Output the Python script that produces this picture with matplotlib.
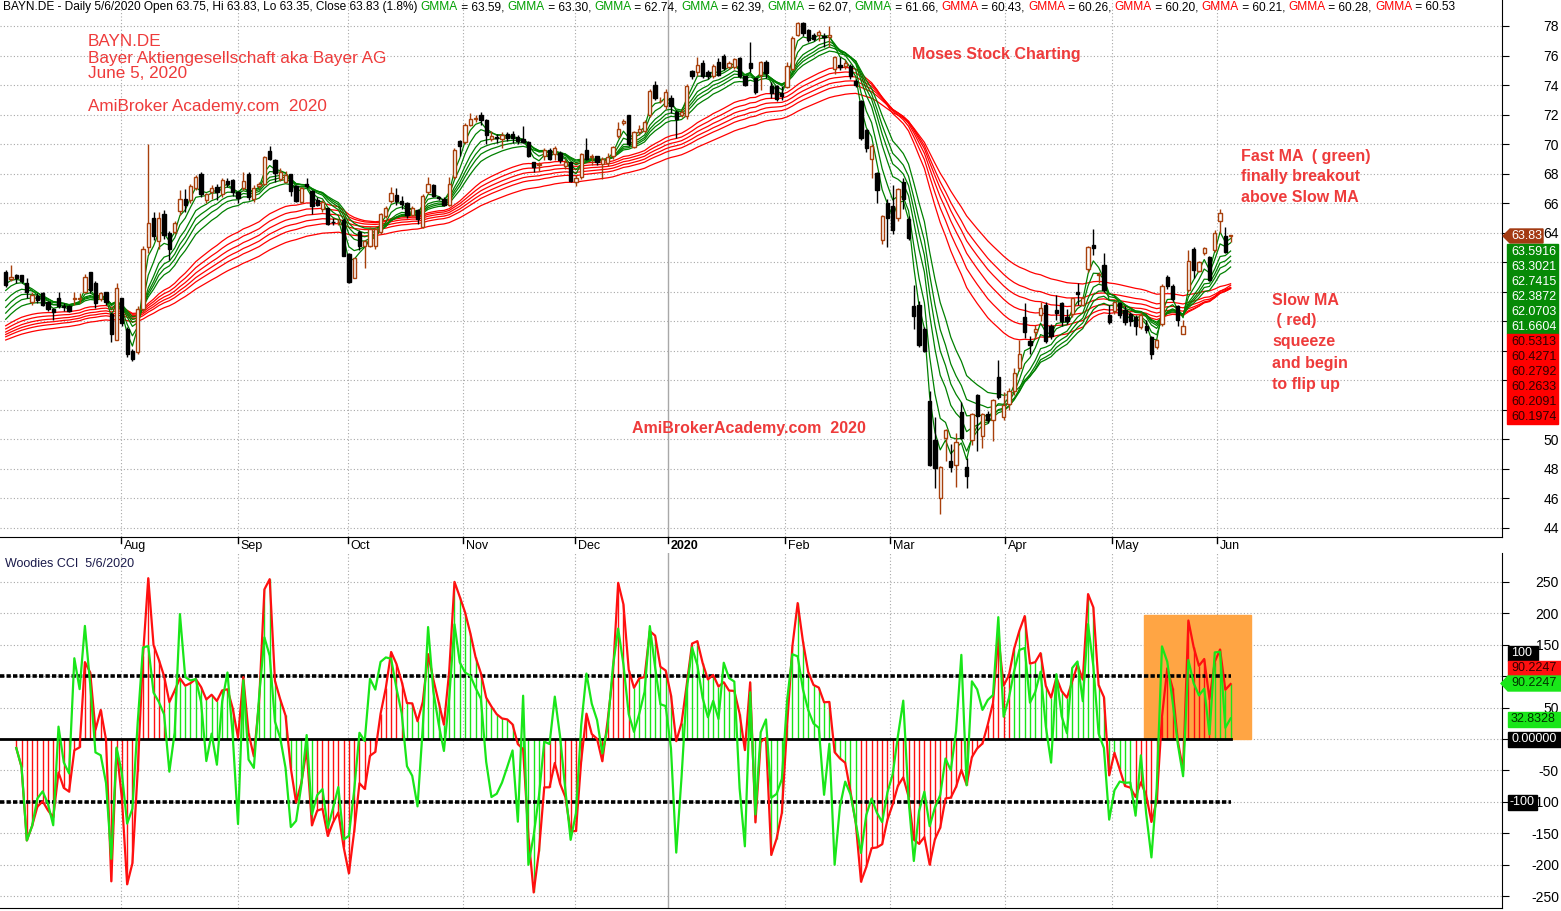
import numpy as np
import pandas as pd
import matplotlib
matplotlib.use("Agg")
import matplotlib.pyplot as plt
from matplotlib.patches import Rectangle, Polygon

# daily bars (Jul 2019 - 5 Jun 2020)
opens = [61.35, 60.85, 61.1, 61.1, 60.6, 59.3, 59.7, 59.9, 59.3, 58.8, 59.6, 59.05, 59.0, 59.5, 59.5, 59.95,
         61.3, 60.6, 59.5, 59.95, 58.5, 56.75, 59.55, 57.47, 56.0, 55.94, 58.8, 63.0, 64.97, 63.4, 65.26, 64.0,
         64.02, 65.44, 66.3, 66.23, 67.0, 68.0, 66.23, 66.73, 67.07, 66.6, 67.5, 67.58, 66.73, 67.0, 68.0, 66.3,
         67.13, 67.3, 69.55, 68.94, 67.6, 67.45, 67.97, 67.13, 66.1, 67.3, 66.84, 66.23, 65.6, 65.64, 64.75, 64.7,
         64.88, 62.55, 60.93, 64.06, 63.07, 63.07, 63.1, 64.06, 65.15, 66.16, 66.55, 66.16, 65.98, 65.2, 65.53, 64.36,
         66.73, 67.2, 66.4, 66.3, 65.9, 67.74, 70.2, 70.16, 71.29, 71.7, 72.0, 71.65, 70.34, 70.5, 70.34, 70.66,
         70.7, 70.5, 70.33, 70.15, 68.76, 68.6, 69.2, 69.6, 69.3, 69.4, 68.5, 68.76, 67.42, 67.75, 69.6, 69.1,
         69.16, 68.64, 68.7, 69.2, 70.55, 71.4, 71.98, 69.77, 70.84, 70.9, 71.94, 74.0, 72.9, 72.56, 73.12, 72.16,
         71.94, 71.9, 74.98, 74.9, 75.5, 74.85, 74.6, 75.58, 75.96, 75.25, 75.2, 75.8, 74.58, 75.47, 74.47, 74.67,
         75.57, 73.9, 73.9, 73.44, 73.89, 75.06, 77.37, 78.2, 77.75, 77.37, 77.37, 77.3, 77.26, 75.06, 75.35, 75.28,
         75.28, 74.27, 72.94, 70.97, 69.0, 68.05, 63.5, 66.02, 65.8, 65.0, 67.4, 64.9, 59.06, 59.1, 57.44, 52.6,
         49.96, 46.0, 50.1, 48.54, 48.27, 51.82, 48.1, 49.96, 53.0, 50.25, 51.7, 51.3, 54.2, 51.53, 52.4, 53.3,
         54.8, 58.28, 56.63, 57.26, 58.4, 59.1, 57.67, 58.78, 59.25, 58.28, 58.5, 60.0, 59.1, 61.55, 63.18, 61.1,
         61.78, 58.44, 58.66, 59.25, 58.73, 58.5, 58.28, 57.6, 57.67, 56.93, 56.25, 57.83, 60.99, 60.38, 59.0, 57.15,
         60.1, 62.9, 61.37, 62.63, 62.34, 62.8, 64.76, 63.77, 63.75]
highs = [61.45, 61.8, 61.2, 61.15, 60.9, 60.0, 59.9, 60.0, 59.4, 58.9, 60.0, 59.2, 59.1, 60.0, 59.9, 61.2,
         61.35, 60.7, 60.0, 60.0, 58.6, 60.6, 59.6, 57.6, 56.1, 59.0, 63.1, 70.0, 65.4, 65.4, 65.5, 64.1,
         64.8, 66.9, 66.97, 67.3, 67.9, 68.1, 66.7, 67.2, 67.3, 67.7, 67.7, 67.6, 66.8, 68.1, 68.1, 67.2,
         67.4, 69.2, 69.9, 69.0, 68.4, 68.2, 68.0, 67.2, 67.1, 67.7, 66.9, 66.4, 66.2, 65.7, 65.0, 64.9,
         65.0, 62.6, 62.3, 64.2, 63.5, 64.4, 64.4, 65.3, 65.8, 67.1, 67.0, 66.5, 66.1, 65.8, 65.6, 66.6,
         67.8, 67.3, 66.5, 66.4, 67.8, 69.7, 70.3, 71.4, 72.1, 72.0, 72.2, 71.7, 70.9, 70.7, 70.8, 70.8,
         70.9, 70.6, 71.2, 70.2, 68.8, 68.8, 69.7, 69.7, 69.9, 69.5, 69.0, 68.8, 67.9, 69.4, 70.4, 69.3,
         69.2, 69.1, 69.4, 69.9, 71.5, 71.7, 72.0, 70.9, 71.3, 71.6, 73.7, 74.3, 73.2, 73.7, 73.3, 72.3,
         72.4, 74.1, 75.0, 75.9, 75.7, 75.0, 75.4, 75.8, 76.1, 75.6, 75.8, 75.9, 74.6, 76.9, 74.5, 75.6,
         75.7, 74.2, 74.0, 73.9, 75.57, 77.3, 78.3, 78.27, 77.8, 77.5, 77.7, 77.5, 78.0, 76.0, 75.9, 75.7,
         75.4, 74.4, 73.0, 71.0, 70.0, 68.1, 65.2, 66.3, 67.26, 67.0, 67.7, 65.1, 60.45, 59.4, 57.6, 53.3,
         51.5, 48.2, 50.7, 49.7, 50.4, 52.5, 48.7, 51.75, 53.1, 51.8, 51.9, 52.7, 55.4, 53.2, 53.5, 54.8,
         56.7, 59.25, 57.0, 57.76, 59.3, 59.3, 57.8, 59.8, 59.3, 58.8, 59.6, 60.6, 59.7, 63.1, 64.26, 61.3,
         62.63, 59.07, 59.4, 59.3, 59.0, 58.6, 58.4, 58.6, 58.05, 57.0, 56.8, 60.5, 61.1, 60.5, 59.1, 58.05,
         62.8, 63.0, 62.1, 63.0, 62.4, 64.15, 65.6, 64.37, 63.83]
lows = [60.3, 60.7, 60.6, 60.6, 59.6, 59.1, 59.2, 59.0, 58.7, 58.1, 58.9, 58.7, 58.6, 59.1, 59.2, 59.9,
        59.9, 58.9, 59.4, 59.1, 56.57, 56.7, 57.7, 55.6, 55.3, 55.8, 58.6, 62.6, 63.5, 62.9, 63.6, 62.17,
        63.9, 65.2, 65.4, 66.0, 66.9, 66.4, 66.0, 66.3, 66.2, 66.4, 67.1, 66.5, 66.0, 66.9, 66.2, 66.1,
        67.0, 67.2, 68.9, 67.4, 67.5, 67.4, 66.45, 66.1, 66.0, 67.0, 65.26, 65.8, 65.4, 64.5, 64.5, 64.5,
        62.4, 60.6, 60.9, 62.8, 61.6, 63.0, 62.9, 63.9, 65.0, 66.0, 65.9, 65.6, 65.0, 65.1, 64.58, 64.3,
        66.6, 66.4, 66.2, 65.8, 65.8, 67.6, 69.2, 70.0, 71.2, 71.5, 71.3, 70.0, 70.2, 70.1, 69.7, 70.2,
        70.1, 70.0, 70.1, 69.1, 68.1, 68.2, 68.9, 68.9, 68.9, 68.7, 68.3, 67.4, 67.15, 67.6, 68.9, 68.6,
        68.6, 67.6, 68.5, 69.0, 70.4, 71.3, 69.9, 69.7, 70.6, 70.8, 71.8, 73.0, 72.8, 72.4, 72.1, 70.4,
        71.8, 71.7, 74.4, 74.6, 74.5, 74.4, 74.5, 74.6, 75.0, 75.1, 75.1, 74.5, 73.9, 74.9, 73.4, 73.66,
        74.5, 73.1, 72.9, 73.0, 73.8, 75.0, 77.3, 77.3, 76.9, 77.0, 77.0, 76.58, 76.6, 74.74, 75.0, 75.1,
        74.4, 73.84, 70.3, 69.44, 67.7, 66.0, 63.2, 63.06, 63.9, 64.8, 65.6, 63.5, 57.5, 56.24, 55.9, 48.2,
        46.7, 44.95, 48.5, 47.8, 46.8, 50.0, 46.7, 49.6, 49.2, 49.4, 51.1, 49.9, 52.7, 51.3, 52.0, 53.0,
        54.6, 56.86, 55.8, 56.8, 58.0, 56.5, 56.8, 58.05, 57.7, 57.8, 58.3, 59.07, 59.0, 61.3, 62.5, 60.6,
        60.0, 57.8, 58.5, 58.2, 57.76, 57.7, 57.04, 57.5, 57.2, 55.46, 56.1, 57.7, 60.2, 59.4, 57.7, 57.1,
        60.0, 60.9, 61.3, 62.5, 60.7, 62.7, 64.0, 62.6, 63.35]
closes = [60.45, 61.0, 60.9, 60.7, 59.95, 59.8, 59.45, 59.1, 58.85, 58.6, 59.05, 58.95, 58.7, 59.55, 59.5, 60.97,
          60.1, 59.2, 59.9, 59.28, 57.13, 60.23, 57.9, 55.78, 55.44, 58.8, 62.9, 64.63, 63.75, 64.97, 63.84, 62.9,
          64.63, 66.3, 65.9, 67.18, 67.74, 66.6, 66.6, 67.0, 66.73, 67.58, 67.3, 66.73, 66.35, 67.5, 66.4, 67.0,
          67.3, 69.1, 69.0, 68.04, 68.1, 67.9, 66.84, 66.16, 67.0, 67.13, 65.82, 65.87, 66.05, 64.58, 64.7, 64.7,
          62.44, 60.63, 62.26, 63.07, 63.4, 64.25, 64.25, 65.26, 65.64, 66.7, 66.16, 65.94, 65.2, 65.7, 64.92, 66.5,
          67.3, 66.5, 66.35, 65.9, 67.3, 69.6, 69.9, 71.29, 71.7, 71.75, 71.6, 70.6, 70.56, 70.4, 70.6, 70.44,
          70.44, 70.2, 70.15, 69.16, 68.47, 68.65, 69.6, 69.0, 69.7, 68.94, 68.8, 67.53, 67.7, 69.3, 69.0, 69.2,
          68.76, 68.98, 69.1, 69.77, 71.0, 71.55, 69.99, 70.84, 71.0, 71.5, 73.6, 73.12, 72.9, 73.5, 72.56, 71.67,
          72.16, 73.95, 74.6, 75.36, 74.6, 74.58, 75.3, 74.69, 75.13, 75.47, 75.74, 74.58, 74.02, 75.14, 73.5, 75.57,
          74.8, 73.44, 73.03, 73.26, 75.28, 77.2, 78.2, 77.53, 77.08, 77.15, 77.6, 77.25, 77.37, 75.9, 75.2, 75.5,
          74.6, 74.0, 70.4, 69.73, 69.9, 66.92, 65.12, 65.0, 64.2, 66.97, 66.25, 63.66, 58.38, 56.4, 56.0, 48.27,
          48.04, 48.1, 50.6, 48.09, 49.84, 50.07, 47.5, 51.7, 51.6, 51.7, 51.3, 52.65, 52.85, 52.32, 53.3, 54.5,
          55.8, 57.26, 56.36, 57.5, 58.9, 56.63, 57.0, 58.55, 57.98, 57.98, 59.57, 59.86, 59.57, 63.0, 62.95, 61.2,
          60.1, 57.94, 59.3, 58.4, 57.94, 57.98, 57.67, 58.44, 57.38, 55.8, 56.7, 60.38, 60.38, 59.52, 58.05, 57.7,
          62.1, 61.44, 62.0, 62.95, 60.76, 64.0, 65.35, 62.68, 63.83]

month_labels = ["Aug", "Sep", "Oct", "Nov", "Dec", "2020", "Feb", "Mar", "Apr", "May", "Jun"]
month_bars = [21.8, 44.0, 64.8, 86.6, 107.8, 125.4, 147.6, 167.5, 189.3, 209.6, 229.4]

fast_periods = [3, 5, 8, 10, 12, 15]
slow_periods = [30, 35, 40, 45, 50, 60]
# EMA levels at the left edge (history before the window)
fast_start = [60.6, 59.9, 59.1, 58.6, 58.2, 57.8]
slow_start = [57.5, 57.3, 57.1, 56.95, 56.8, 56.6]

header_fast = ["63.59", "63.30", "62.74", "62.39", "62.07", "61.66"]
header_slow = ["60.43", "60.26", "60.20", "60.21", "60.28", "60.53"]
box_fast = ["63.5916", "63.3021", "62.7415", "62.3872", "62.0703", "61.6604"]
box_slow = ["60.5313", "60.4271", "60.2792", "60.2633", "60.2091", "60.1974"]
last_close = "63.83"
cci_boxes = ["100", "90.2247", "90.2247", "32.8328", "0.00000", "-100"]

price_ticks = list(range(44, 80, 2))
hidden_price = [52, 54, 56, 58, 60, 62]   # sit under the value boxes
cci_ticks = [250, 200, 150, 100, 50, 0, -50, -100, -150, -200, -250]
hidden_cci = [100, 0]
highlight = [215.5, 235.8, 197]  # first bar, last bar, top of the orange box

W, H = 1561, 911
UP = "#a8400c"
RED_TXT = "#ee3b3b"
GRID = dict(color="#a8a8a8", lw=0.8, linestyle=(0, (1, 2)))
plt.rcParams['font.family'] = ['Liberation Sans', 'DejaVu Sans']
plt.rcParams['axes.unicode_minus'] = False


def ema(values, n, seed):
    k = 2.0 / (n + 1)
    out = []
    e = seed
    for v in values:
        e = e + k * (v - e)
        out.append(e)
    return np.array(out)


def cci(h, l, c, n):
    tp = (pd.Series(h) + pd.Series(l) + pd.Series(c)) / 3
    sma = tp.rolling(n, min_periods=3).mean()
    mad = tp.rolling(n, min_periods=3).apply(lambda x: np.mean(np.abs(x - x.mean())), raw=True)
    return ((tp - sma) / (0.015 * mad)).values


def px(x, y):
    return x / W, 1 - y / H


def box(x0, y0, x1, y1, color, arrow=False):
    if arrow:
        pts = [px(x0, (y0 + y1) / 2), px(x0 + 7, y0), px(x1, y0), px(x1, y1), px(x0 + 7, y1)]
        fig.patches.append(Polygon(pts, closed=True, transform=fig.transFigure, color=color, zorder=5))
    else:
        fig.patches.append(Rectangle(px(x0, y1), (x1 - x0) / W, (y1 - y0) / H,
                                     transform=fig.transFigure, color=color, zorder=5))


def box_text(x, y, s, color):
    fig.text(*px(x, y), s, color=color, fontsize=9, ha="left", va="center", zorder=6)


def red_note(x, y, s, bold=False):
    fig.text(*px(x, y), s, color=RED_TXT, fontsize=11.5 if bold else 12.3,
             fontweight="bold" if bold else "normal", ha="left", va="center")


def tick_labels(a, ticks, hidden):
    a.set_yticks(ticks)
    a.set_yticklabels(["" if t in hidden else str(t) for t in ticks])
    for t in a.get_yticklabels():
        t.set_horizontalalignment("right")


fig = plt.figure(figsize=(W / 100, H / 100), dpi=100)
ax = fig.add_axes([0, 1 - 537 / H, 1502 / W, 537 / H])
ax2 = fig.add_axes([0, 1 - 908 / H, 1502 / W, (908 - 553) / H])

n = len(closes)
x = np.arange(n)
o = np.array(opens)
c = np.array(closes)

for a in (ax, ax2):
    a.set_xlim(-1.08, 283.4)
    for m, lab in zip(month_bars, month_labels):
        if lab == "2020":
            a.axvline(m, color="#a8a8a8", lw=1.0, zorder=0)
        else:
            a.axvline(m, zorder=0, **GRID)
    a.spines[["left", "top"]].set_visible(False)
    a.yaxis.tick_right()
    a.tick_params(axis="y", length=5, pad=36, labelsize=10)
    a.set_xticks([])

# price panel
ax.set_ylim(43.38, 79.76)
tick_labels(ax, price_ticks, hidden_price)
for p in price_ticks:
    ax.axhline(p, zorder=0, **GRID)

for per, s in zip(slow_periods, slow_start):
    ax.plot(x, ema(closes, per, s), color="#ff0000", lw=0.9, zorder=2)
for per, s in zip(fast_periods, fast_start):
    ax.plot(x, ema(closes, per, s), color="#008000", lw=0.9, zorder=3)

up = c >= o
ax.vlines(x[up], np.array(lows)[up], np.array(highs)[up], color=UP, lw=1.0, zorder=4)
ax.vlines(x[~up], np.array(lows)[~up], np.array(highs)[~up], color="black", lw=1.0, zorder=4)
body = np.maximum(np.abs(c - o), 0.04)
ax.bar(x[up], body[up], bottom=np.minimum(o, c)[up], width=0.62, color="white",
       edgecolor=UP, linewidth=1.0, zorder=5)
ax.bar(x[~up], body[~up], bottom=np.minimum(o, c)[~up], width=0.62, color="black",
       edgecolor="black", linewidth=1.0, zorder=5)

for m, lab in zip(month_bars, month_labels):
    ax.plot([m, m], [0, -0.012], transform=ax.get_xaxis_transform(), color="black", lw=1, clip_on=False)
    ax.annotate(lab, xy=(m, 0), xycoords=("data", "axes fraction"), xytext=(2, -2),
                textcoords="offset points", ha="left", va="top", fontsize=9,
                fontweight="bold" if lab == "2020" else "normal")

# CCI panel
cci14 = cci(highs, lows, closes, 14)
cci6 = cci(highs, lows, closes, 6)
ax2.set_ylim(-268.7, 295.7)
tick_labels(ax2, cci_ticks, hidden_cci)
for v in cci_ticks:
    ax2.axhline(v, zorder=0, **GRID)

ax2.add_patch(Rectangle((highlight[0], 0), highlight[1] - highlight[0], highlight[2],
                        color="#ffa544", zorder=1))

# Woodies trend colouring: six bars on one side of zero sets the trend
colors = []
state, pos, neg = None, 0, 0
for v in cci14:
    if np.isnan(v):
        colors.append("#19e619")
        continue
    if v > 0:
        pos, neg = pos + 1, 0
    else:
        neg, pos = neg + 1, 0
    if pos >= 6:
        state = "up"
    if neg >= 6:
        state = "down"
    if state is None:
        state = "up" if v > 0 else "down"
    colors.append("#19e619" if state == "up" else "#ff1010")
ax2.vlines(x, 0, np.nan_to_num(cci14), colors=colors, lw=1.0, zorder=2)

ax2.plot([-1.08, n - 1], [100, 100], color="black", lw=2.6, linestyle=(0, (1.2, 0.6)), zorder=3)
ax2.plot([-1.08, n - 1], [-100, -100], color="black", lw=2.6, linestyle=(0, (1.2, 0.6)), zorder=3)
ax2.plot([-1.08, n - 1], [0, 0], color="black", lw=2.0, zorder=3)
ax2.plot(x, cci14, color="#ff1010", lw=1.6, zorder=4)
ax2.plot(x, cci6, color="#19e619", lw=1.6, zorder=5)
ax2.text(0.003, 0.985, "Woodies CCI  5/6/2020", transform=ax2.transAxes, ha="left", va="top",
         fontsize=9, color="#1a1a4a")

# header line with coloured GMMA names
prev = fig.text(*px(3, 1), "BAYN.DE - Daily 5/6/2020 Open 63.75, Hi 63.83, Lo 63.35, Close 63.83 (1.8%) ",
                fontsize=8.6, ha="left", va="top")
parts = []
for i, v in enumerate(header_fast + header_slow):
    parts.append(("GMMA", "#00a000" if i < 6 else "#ff0000"))
    parts.append((" = " + v + (", " if i < 11 else ""), "black"))
for s, col in parts:
    prev = ax.annotate(s, xy=(1, 0), xycoords=prev, fontsize=8.6, color=col,
                       ha="left", va="bottom", annotation_clip=False)

# red notes
red_note(88, 42, "BAYN.DE")
red_note(88, 58, "Bayer Aktiengesellschaft aka Bayer AG")
red_note(88, 74, "June 5, 2020")
red_note(88, 106, "AmiBroker Academy.com  2020")
red_note(912, 55, "Moses Stock Charting", bold=True)
red_note(1241, 156, "Fast MA  ( green)", bold=True)
red_note(1241, 177, "finally breakout", bold=True)
red_note(1241, 198, "above Slow MA", bold=True)
red_note(1272, 300, "Slow MA", bold=True)
red_note(1272, 321, " ( red)", bold=True)
red_note(1272, 342, "squeeze", bold=True)
red_note(1272, 363, "and begin", bold=True)
red_note(1272, 384, "to flip up", bold=True)
red_note(632, 428, "AmiBrokerAcademy.com  2020", bold=True)

# value boxes on the price scale
box(1503, 229, 1543, 243, "#a33a12", arrow=True)
box_text(1511, 236, last_close, "white")
box(1507, 244, 1558, 334, "#068a06")
for i, s in enumerate(box_fast):
    box_text(1511, 252 + 15 * i, s, "white")
box(1507, 334, 1558, 424, "#ff0000")
for i, s in enumerate(box_slow):
    box_text(1511, 342 + 15 * i, s, "#300000")

# value boxes on the CCI scale
box(1508, 646, 1538, 661, "black")
box_text(1511, 653, cci_boxes[0], "white")
box(1508, 661, 1561, 676, "#ff1010")
box_text(1511, 668, cci_boxes[1], "#300000")
box(1501, 676, 1561, 691, "#19e619", arrow=True)
box_text(1511, 683, cci_boxes[2], "#003000")
box(1508, 712, 1561, 727, "#19e619")
box_text(1511, 719, cci_boxes[3], "#003000")
box(1508, 732, 1561, 747, "black")
box_text(1511, 739, cci_boxes[4], "white")
box(1508, 795, 1537, 810, "black")
box_text(1509, 802, cci_boxes[5], "white")

plt.savefig("out.png", dpi=100)
